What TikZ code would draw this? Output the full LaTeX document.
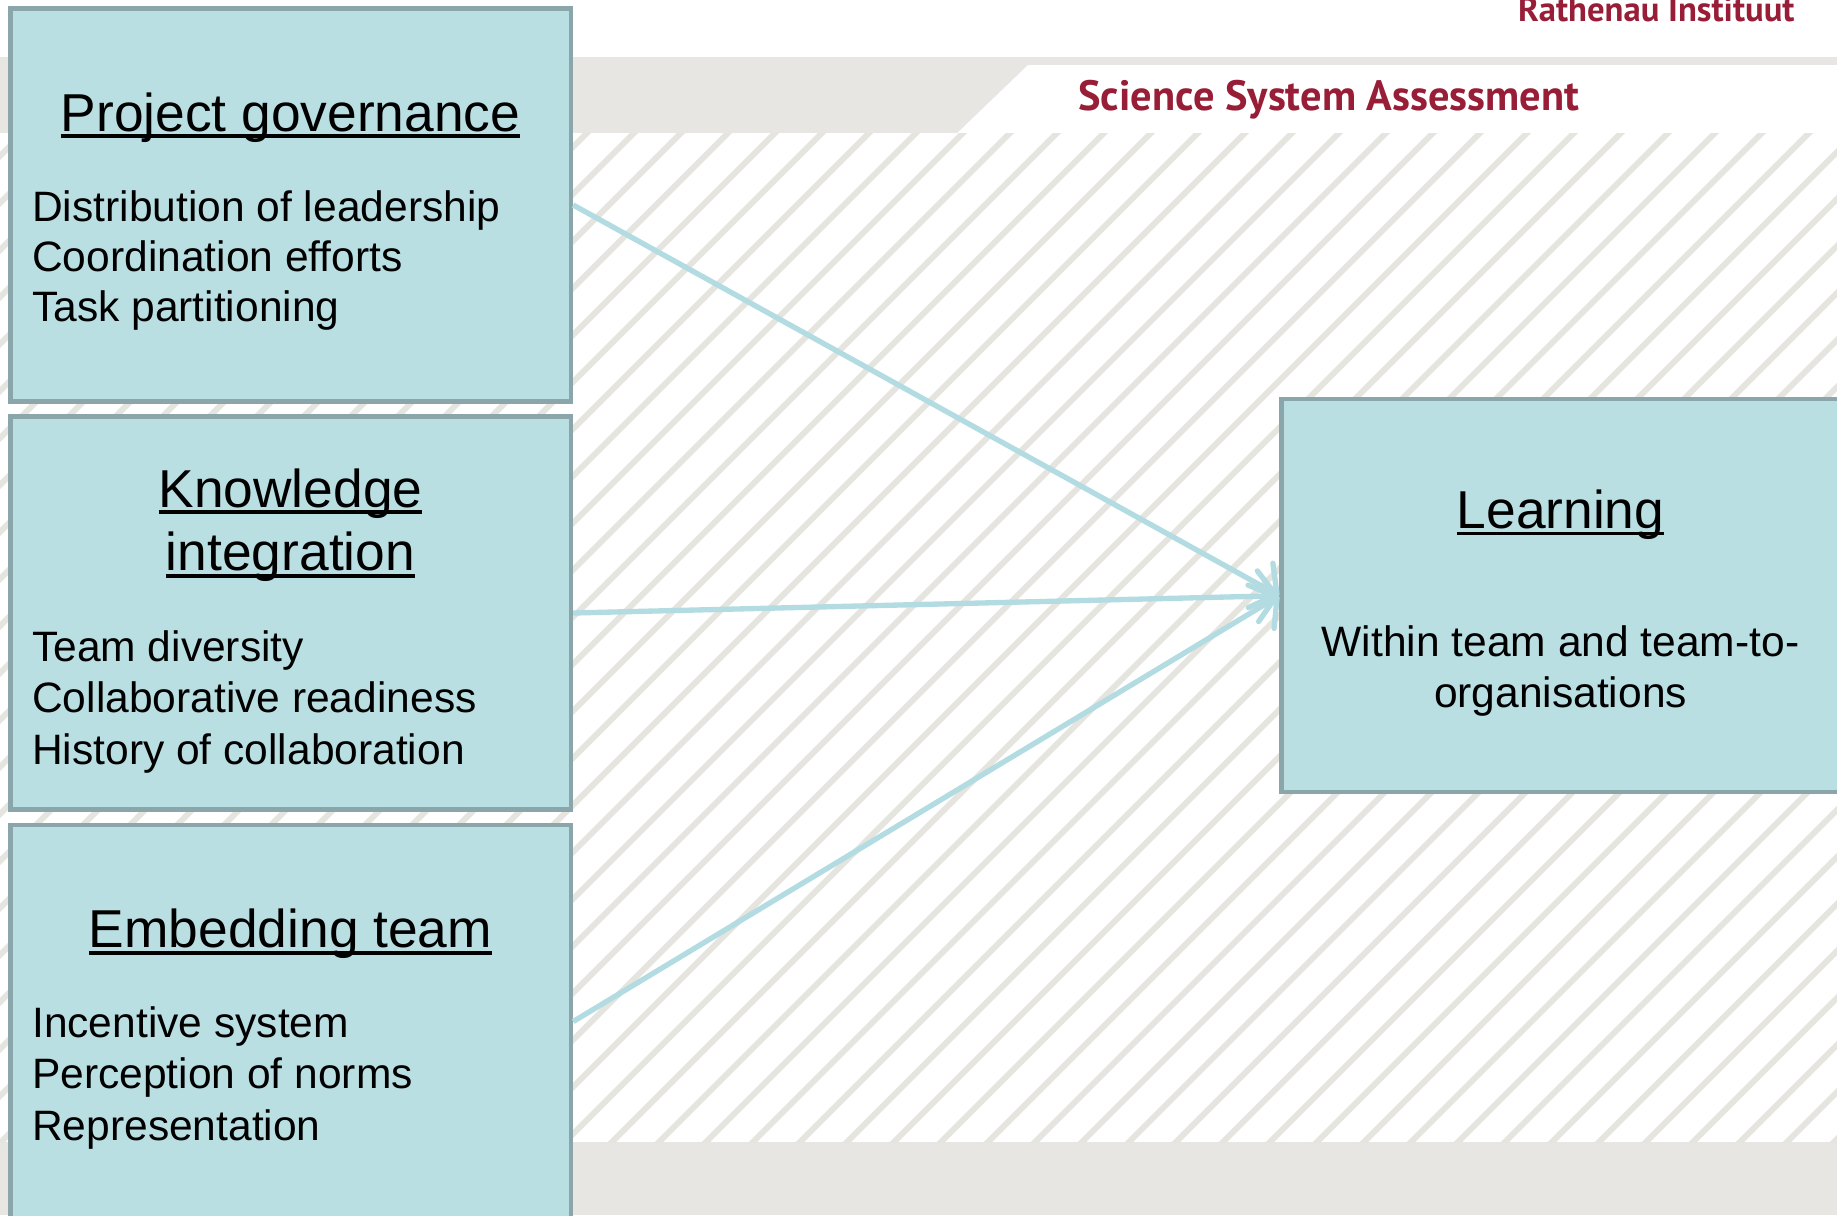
\documentclass[tikz,border=0pt]{standalone}
\usepackage{fontspec}
\setmainfont{Liberation Sans}
\newfontfamily\rathfont{PT Sans}
\usetikzlibrary{arrows.meta}

\definecolor{boxfill}{RGB}{185,223,227}
\definecolor{boxline}{RGB}{139,166,170}
\definecolor{arrowcol}{RGB}{178,220,225}
\definecolor{bandgray}{RGB}{232,230,226}
\definecolor{hatchgray}{RGB}{229,228,223}
\definecolor{rathred}{RGB}{152,30,56}

% underlined heading, rule at a fixed depth
\newcommand\ulhead[1]{\setbox0\hbox{#1}\rlap{\rule[-0.13em]{\wd0}{0.065em}}\box0}

\tikzset{every picture/.style={line width=0.75pt}}

\begin{document}
\begin{tikzpicture}[x=0.75pt,y=0.75pt,yscale=-1,xscale=1,
  blk/.style={draw=boxline,fill=boxfill,line width=3.2pt,minimum width=420.4pt,minimum height=294.8pt,inner sep=0pt},
  ttl/.style={font=\fontsize{40}{47}\selectfont,anchor=base,inner sep=0pt},
  itm/.style={font=\fontsize{31.9}{37.5}\selectfont,anchor=base west,inner sep=0pt},
  lrn/.style={font=\fontsize{31.9}{37.5}\selectfont,anchor=base,inner sep=0pt},
  hatch/.style={draw=hatchgray,line width=4.4pt},
  lnk/.style={draw=arrowcol,line width=4pt,-{Straight Barb[length=14pt,width=38pt,line width=4pt,round]}}]
\useasboundingbox (0,0) rectangle (1837,1215);
\clip (0,0) rectangle (1837,1215);

%Shape: Rectangle [id:dp2210457781394]
\fill[white] (0,0) rectangle (1837,1215);
%Shape: Rectangle [id:dp8403175526913]
\fill[bandgray] (0,56.7) rectangle (1837,133.3);
%Shape: Polygon [id:ds5527018364210]
\fill[white] (1028,65) -- (1837,65) -- (1837,133.3) -- (957,133.3) -- cycle;
%Shape: Rectangle [id:dp6619370241578]
\fill[bandgray] (0,1142) rectangle (1837,1215);

%Straight Lines: hatching
\begin{scope}
\clip (0,133.3) rectangle (1837,1142);
\foreach \k in {0,...,64}
  \draw[hatch] ({15+47*\k},0) -- ({15+47*\k-1400},1400);
\end{scope}

% header texts
\node[text=rathred,font=\rathfont\bfseries\fontsize{26}{30}\selectfont,anchor=base east,inner sep=0pt] (inst) at (1795,21.7) {Rathenau Instituut};
\node[text=rathred,font=\rathfont\bfseries\fontsize{31.8}{36}\selectfont,anchor=base west,inner sep=0pt] (ssa) at (1078,110) {Science System Assessment};

%Shape: Rectangle [id:dp4471962035817]
\node[blk] (gov) at (290.8,205) {};
%Shape: Rectangle [id:dp9034418825573]
\node[blk] (know) at (290.8,613) {};
%Shape: Rectangle [id:dp1586320947721]
\node[blk] (emb) at (290.8,1021.5) {};
%Shape: Rectangle [id:dp7723094601358]
\node[blk] (learn) at (1561.7,595.7) {};

% Text Node
\node[ttl] (govT) at (290.5,131) {\ulhead{Project governance}};
\node[itm] (gov1) at (31.7,221.7) {Distribution of leadership};
\node[itm] (gov2) at (31.7,271.7) {Coordination efforts};
\node[itm] (gov3) at (31.7,321.7) {Task partitioning};

% Text Node
\node[ttl] (knowT) at (290.5,507) {\ulhead{Knowledge}};
\node[ttl] (knowU) at (290.5,570.6) {\ulhead{integration}};
\node[itm] (know1) at (31.7,661) {Team diversity};
\node[itm] (know2) at (31.7,712.6) {Collaborative readiness};
\node[itm] (know3) at (31.7,764.1) {History of collaboration};

% Text Node
\node[ttl] (embT) at (290.5,947.8) {\ulhead{Embedding team}};
\node[itm] (emb1) at (31.7,1037) {Incentive system};
\node[itm] (emb2) at (31.7,1088.7) {Perception of norms};
\node[itm] (emb3) at (31.7,1140.2) {Representation};

% Text Node
\node[ttl] (learnT) at (1560.5,528.4) {\ulhead{Learning}};
\node[lrn] (learn1) at (1560.5,656.3) {Within team and team-to-};
\node[lrn] (learn2) at (1560.5,707.9) {organisations};

%Straight Lines [id:da3370956128804]
\draw[lnk] (gov.east) -- (learn.west);
%Straight Lines [id:da7185530241967]
\draw[lnk] (know.east) -- (learn.west);
%Straight Lines [id:da0492715384461]
\draw[lnk] (emb.east) -- (learn.west);

\end{tikzpicture}
\end{document}
